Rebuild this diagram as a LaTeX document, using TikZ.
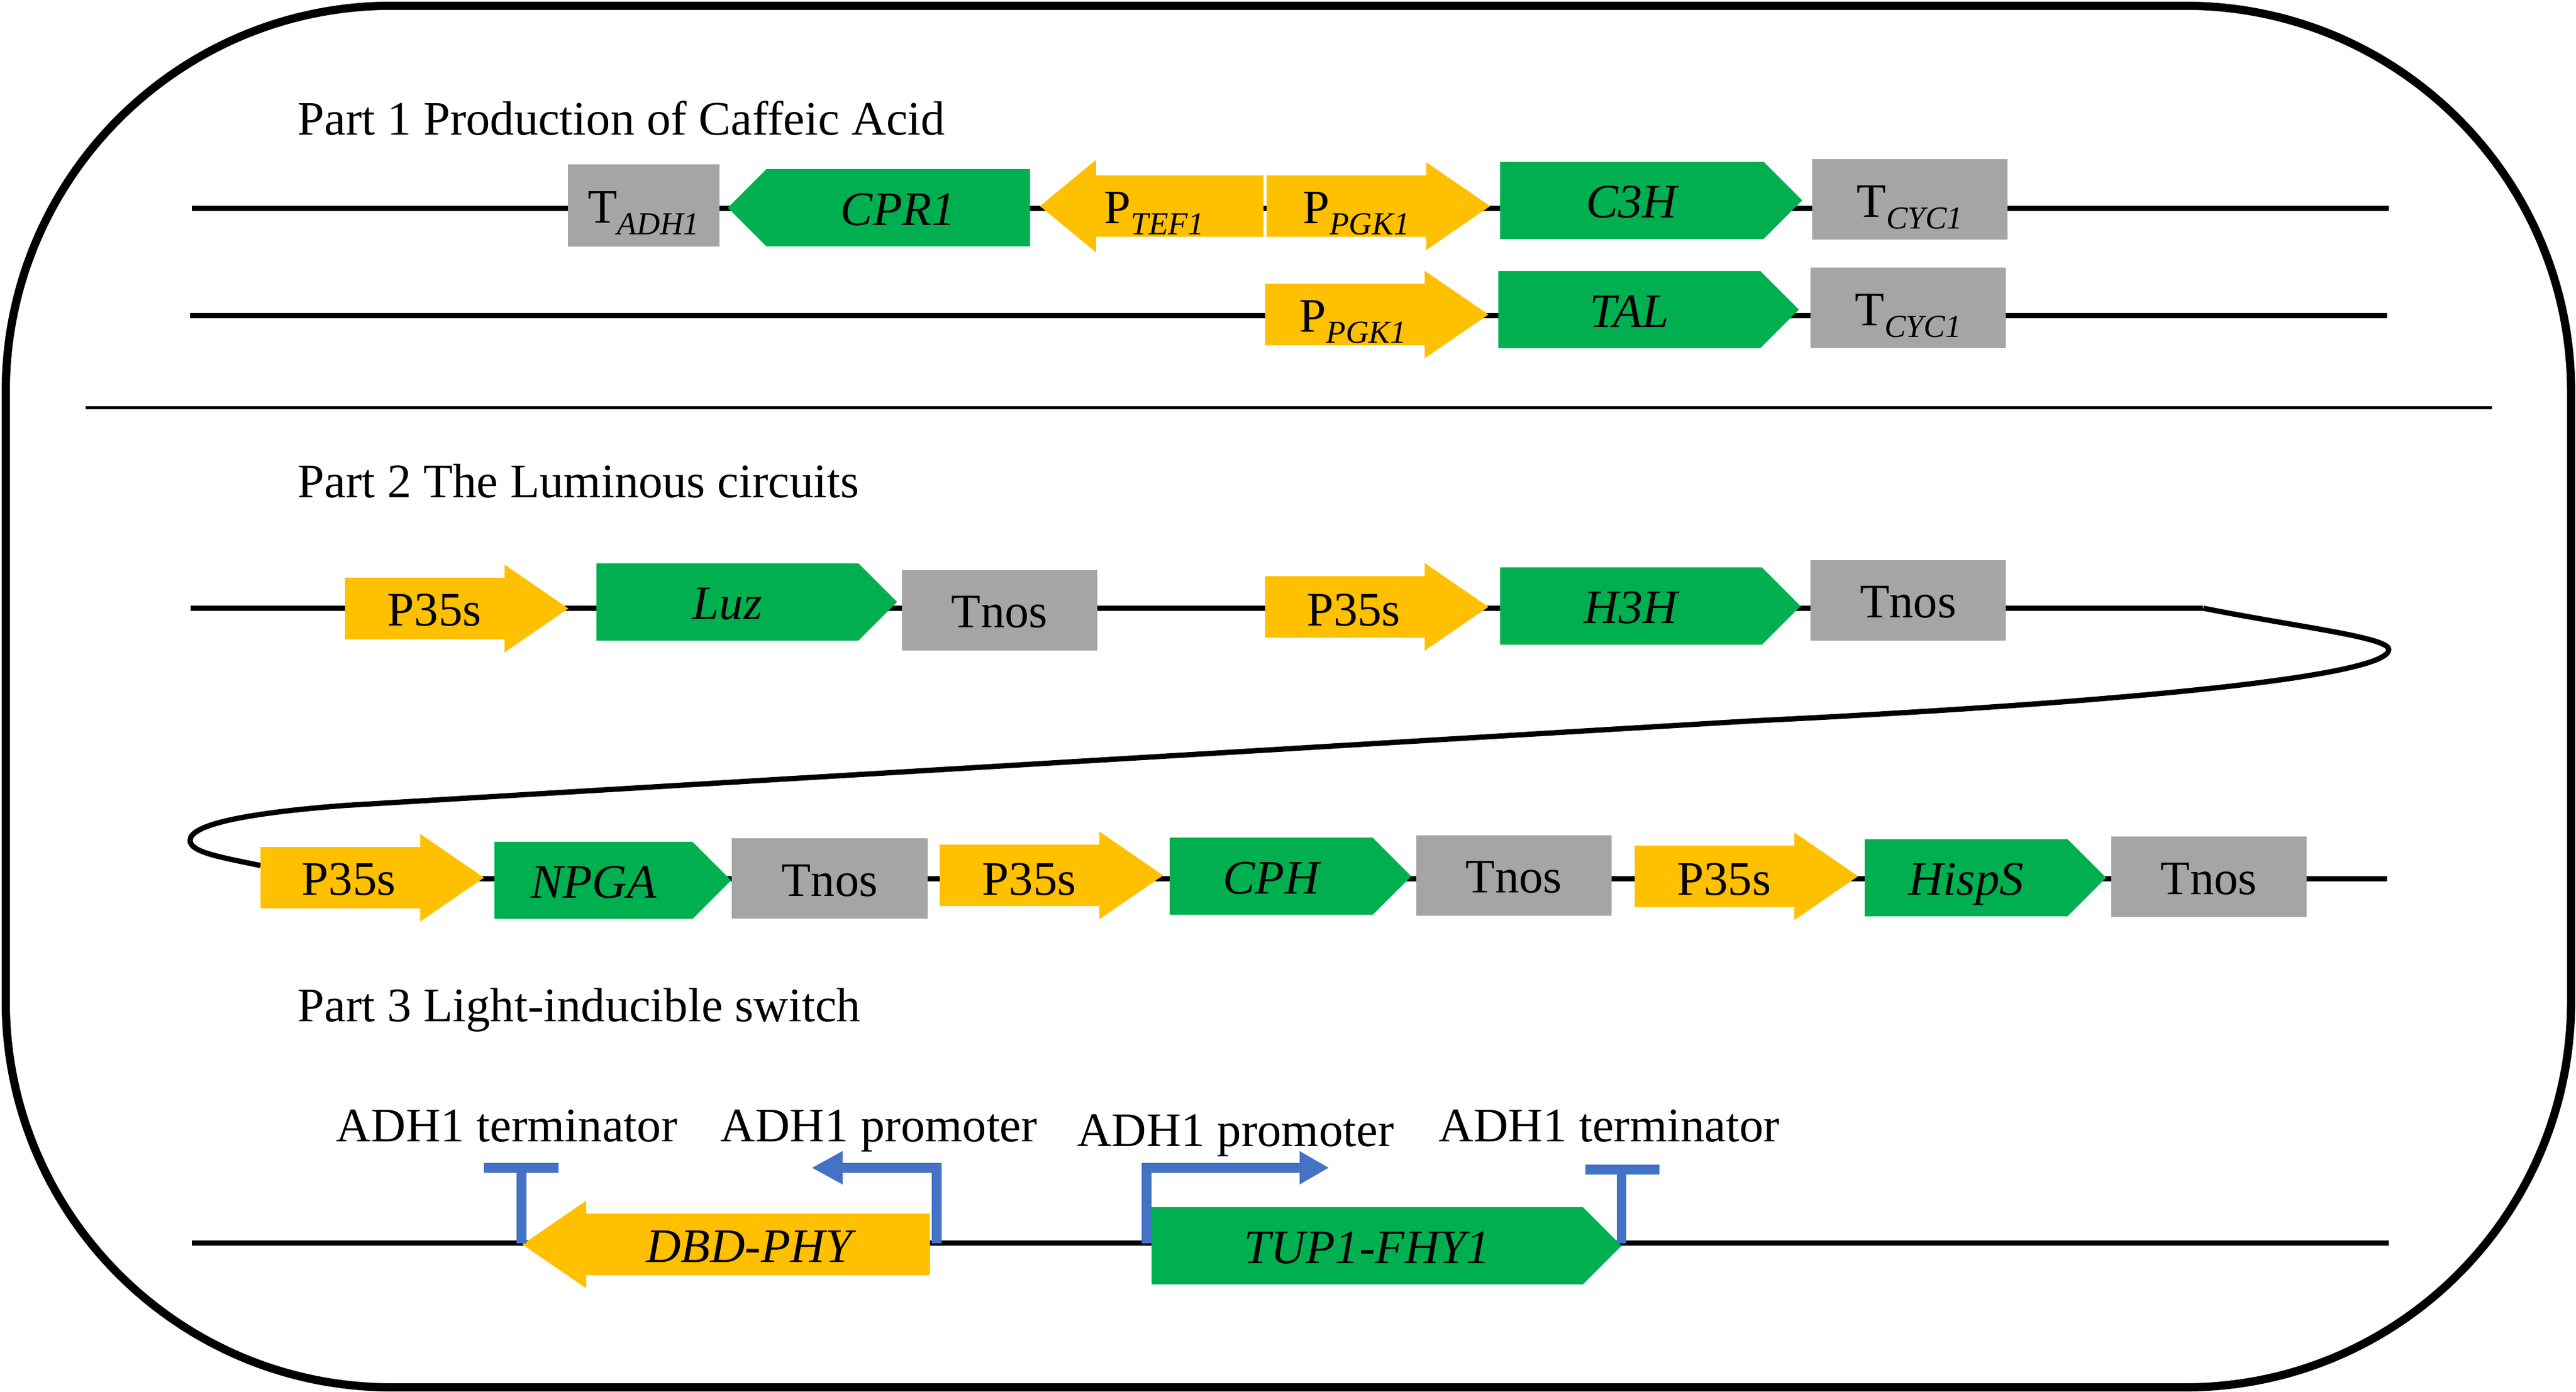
\documentclass[tikz,border=0pt]{standalone}
\usepackage{fontspec}
\setmainfont{Liberation Serif}
\usepackage{tikz}
\usetikzlibrary{shapes.arrows,shapes.symbols,arrows.meta,backgrounds}

\definecolor{mygold}{HTML}{FFC000}
\definecolor{mygreen}{HTML}{00B050}
\definecolor{mygrey}{HTML}{A5A5A5}
\definecolor{myblue}{HTML}{4472C4}
\newcommand{\subtxt}[1]{\raisebox{-7pt}{\fontsize{19.5}{21}\itshape\selectfont #1}}

\begin{document}
\begin{tikzpicture}[x=1pt, y=-1pt,
  myprom/.style={single arrow, fill=mygold, inner xsep=0pt, inner ysep=18.5pt, outer sep=0pt,
    anchor=tail, shape border rotate=#1, minimum height=136pt,
    single arrow head extend=8pt, single arrow head indent=0pt, single arrow tip angle=69},
  myprom/.default=0,
  mygene/.style={signal, fill=mygreen, inner sep=0pt, outer sep=0pt, signal pointer angle=90,
    minimum height=47pt, font=\fontsize{29.3}{31}\itshape\selectfont, text height=27.4pt, text depth=6pt},
  myterm/.style={fill=mygrey, inner sep=0pt, outer sep=0pt, minimum width=119pt, minimum height=49pt,
    font=\fontsize{29.3}{31}\selectfont, text height=27.4pt, text depth=6pt},
  mytext/.style={inner sep=0pt, anchor=base, font=\fontsize{29.3}{31}\selectfont},
  mytitle/.style={mytext, anchor=base west},
  mydna/.style={black, line width=3.2pt},
  myblueline/.style={myblue, line width=6pt}]
\useasboundingbox (0,0) rectangle (1568,847.2);

%frame
  \node[draw, line width=5pt, rounded corners=235pt, minimum width=1561.5pt, minimum height=841.2pt,
    inner sep=0pt] (frame) at (784.25,424.1) {};
  \coordinate (sepL) at (52,248.3);
  \coordinate (sepR) at (1517,248.3);
  \draw[line width=1.8pt] (sepL) -- (sepR);

%part 1
  \node[mytitle] (title1) at (181,82) {Part 1 Production of Caffeic Acid};
  \coordinate (a0) at (116.8,126.8);
  \coordinate (a1) at (1454,126.8);
  \node[myterm, minimum width=92pt, minimum height=50pt] (tadh) at (391.8,125) {T\subtxt{ADH1}};
  \node[mygene, signal to=west, anchor=east, minimum width=184pt] (cpr) at (627,126.5) {CPR1};
  \node[myprom=180, single arrow head extend=9.5pt, single arrow tip angle=79] (ptef) at (769,125.5) {};
  \node[mytext] (ptefT) at (702.5,136) {P\subtxt{TEF1}};
  \node[myprom] (ppgka) at (771,125.5) {};
  \node[mytext] (ppgkaT) at (825.5,136) {P\subtxt{PGK1}};
  \node[mygene, signal to=east, anchor=west, minimum width=184pt] (cthh) at (913,122) {C3H};
  \node[myterm] (tcyca) at (1162.5,121.5) {T\subtxt{CYC1}};

  \coordinate (b0) at (115.8,192.2);
  \coordinate (b1) at (1453,192.2);
  \node[myprom] (ppgkb) at (770,191.5) {};
  \node[mytext] (ppgkbT) at (823.5,202) {P\subtxt{PGK1}};
  \node[mygene, signal to=east, anchor=west, minimum width=183pt] (tal) at (912,188.5) {TAL};
  \node[myterm] (tcycb) at (1161.5,187.5) {T\subtxt{CYC1}};

%part 2
  \node[mytitle] (title2) at (181,303) {Part 2 The Luminous circuits};
  \coordinate (c0) at (116,370.3);
  \coordinate (c1) at (1341,370.3);
  \node[myprom] (ppa) at (210,370.5) {};
  \node[mytext] (ppaT) at (264.5,381) {P35s};
  \node[mygene, signal to=east, anchor=west, minimum width=183pt] (luz) at (363,366.5) {Luz};
  \node[myterm] (tnosa) at (608.5,371.5) {Tnos};
  \node[myprom] (ppb) at (770,369.5) {};
  \node[mytext] (ppbT) at (824,381) {P35s};
  \node[mygene, signal to=east, anchor=west, minimum width=183pt] (hth) at (913,369) {H3H};
  \node[myterm] (tnosb) at (1161.5,365.5) {Tnos};

  \coordinate (d1) at (1453,535);
  \coordinate (d0) at (158.6,527);
  \node[myprom] (ppc) at (158.6,534.4) {};
  \node[mytext] (ppcT) at (212.3,545) {P35s};
  \node[mygene, signal to=east, anchor=west, minimum width=144pt] (npga) at (301,536) {NPGA};
  \node[myterm] (tnosc) at (505,535) {Tnos};
  \node[myprom] (ppd) at (572,533) {};
  \node[mytext] (ppdT) at (626.5,545) {P35s};
  \node[mygene, signal to=east, anchor=west, minimum width=147pt] (cph) at (712,533.5) {CPH};
  \node[myterm] (tnosd) at (921.5,533) {Tnos};
  \node[myprom] (ppe) at (995,533.5) {};
  \node[mytext] (ppeT) at (1049.5,545) {P35s};
  \node[mygene, signal to=east, anchor=west, minimum width=147pt] (hisps) at (1135,534.4) {HispS};
  \node[myterm] (tnose) at (1344.5,533.8) {Tnos};

%part 3
  \node[mytitle] (title3) at (181,622) {Part 3 Light-inducible switch};
  \coordinate (e0) at (116.8,757);
  \coordinate (e1) at (1454,757);
  \node[myprom=180, minimum height=248pt] (dbd) at (566,757.7) {};
  \node[mytext, font=\fontsize{29.3}{31}\itshape\selectfont] (dbdT) at (456,768.5) {DBD-PHY};
  \node[mygene, signal to=east, anchor=west, minimum width=286pt] (tup) at (701,758.5) {TUP1-FHY1};

  \node[mytext] (lbla) at (308.5,695) {ADH1 terminator};
  \node[mytext] (lblb) at (535,695) {ADH1 promoter};
  \node[mytext] (lblc) at (752,698) {ADH1 promoter};
  \node[mytext] (lbld) at (979.5,695) {ADH1 terminator};

%blue parts
  \coordinate (ta0) at (317.5,757);
  \coordinate (ta1) at (317.5,711);
  \coordinate (taL) at (294.5,711);
  \coordinate (taR) at (340,711);
  \coordinate (tb0) at (987,757);
  \coordinate (tb1) at (987,712);
  \coordinate (tbL) at (965,712);
  \coordinate (tbR) at (1010,712);
  \coordinate (pa0) at (570,757);
  \coordinate (pa1) at (494,711);
  \coordinate (pb0) at (698,757);
  \coordinate (pb1) at (809,711);
  \draw[myblueline] (ta0) -- (ta1);
  \draw[myblueline] (taL) -- (taR);
  \draw[myblueline] (tb0) -- (tb1);
  \draw[myblueline] (tbL) -- (tbR);
  \draw[myblueline, -{Triangle[length=19pt,width=19pt]}] (pa0) |- (pa1);
  \draw[myblueline, -{Triangle[length=18pt,width=19pt]}] (pb0) |- (pb1);

%dna lines
  \begin{scope}[on background layer]
  \draw[mydna] (a0) -- (a0 -| tadh.center);
  \draw[mydna] (a0 -| tadh.center) -- (a0 -| cpr.center);
  \draw[mydna] (a0 -| cpr.center) -- (a0 -| ptef.center);
  \draw[mydna] (a0 -| ptef.center) -- (a0 -| ppgka.center);
  \draw[mydna] (a0 -| ppgka.center) -- (a0 -| cthh.center);
  \draw[mydna] (a0 -| cthh.center) -- (a0 -| tcyca.center);
  \draw[mydna] (a0 -| tcyca.center) -- (a1);

  \draw[mydna] (b0) -- (b0 -| ppgkb.center);
  \draw[mydna] (b0 -| ppgkb.center) -- (b0 -| tal.center);
  \draw[mydna] (b0 -| tal.center) -- (b0 -| tcycb.center);
  \draw[mydna] (b0 -| tcycb.center) -- (b1);

  \draw[mydna] (c0) -- (c0 -| ppa.center);
  \draw[mydna] (c0 -| ppa.center) -- (c0 -| luz.center);
  \draw[mydna] (c0 -| luz.center) -- (c0 -| tnosa.center);
  \draw[mydna] (c0 -| tnosa.center) -- (c0 -| ppb.center);
  \draw[mydna] (c0 -| ppb.center) -- (c0 -| hth.center);
  \draw[mydna] (c0 -| hth.center) -- (c0 -| tnosb.center);
  \draw[mydna] (c0 -| tnosb.center) -- (c1);

  \draw[mydna] (c1) .. controls (1400,382) and (1454,388) .. (1454,395.5)
    .. controls (1454,412) and (1290,428) .. (1065,439)
    -- (210,490.4)
    .. controls (150,495) and (115.7,502) .. (115.7,511.7)
    .. controls (115.7,519) and (135,522) .. (d0);

  \draw[mydna] (ppc.center |- d1) -- (npga.center |- d1);
  \draw[mydna] (npga.center |- d1) -- (tnosc.center |- d1);
  \draw[mydna] (tnosc.center |- d1) -- (ppd.center |- d1);
  \draw[mydna] (ppd.center |- d1) -- (cph.center |- d1);
  \draw[mydna] (cph.center |- d1) -- (tnosd.center |- d1);
  \draw[mydna] (tnosd.center |- d1) -- (ppe.center |- d1);
  \draw[mydna] (ppe.center |- d1) -- (hisps.center |- d1);
  \draw[mydna] (hisps.center |- d1) -- (tnose.center |- d1);
  \draw[mydna] (tnose.center |- d1) -- (d1);

  \draw[mydna] (e0) -- (e0 -| dbd.center);
  \draw[mydna] (e0 -| dbd.center) -- (e0 -| tup.center);
  \draw[mydna] (e0 -| tup.center) -- (e1);
  \end{scope}
\end{tikzpicture}
\end{document}
